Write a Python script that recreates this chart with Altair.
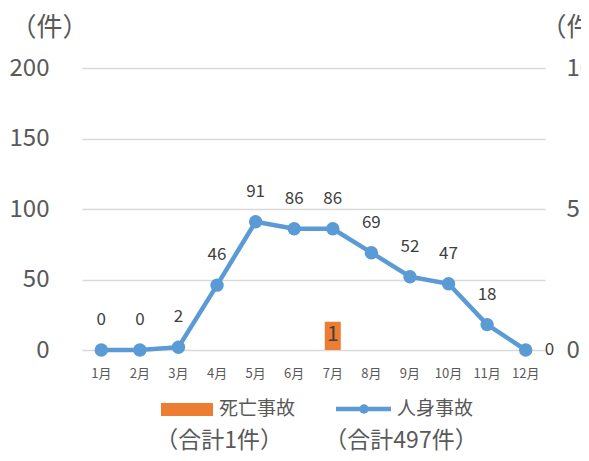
import altair as alt
import pandas as pd

# ---- data ----
months = ["1月", "2月", "3月", "4月", "5月", "6月", "7月", "8月", "9月", "10月", "11月", "12月"]
injury = [0, 0, 2, 46, 91, 86, 86, 69, 52, 47, 18, 0]      # 人身事故 (left axis)
fatal = [0, 0, 0, 0, 0, 0, 1, 0, 0, 0, 0, 0]               # 死亡事故 (right axis)
series_names = ["死亡事故", "人身事故"]
totals = ["（合計1件）", "（合計497件）"]
left_ticks = [0, 50, 100, 150, 200]
right_ticks = [0, 5, 10]
unit = "（件）"

df = pd.DataFrame({"month": months, "injury": injury, "fatal": fatal})
leg_df = pd.DataFrame({"name": series_names, "total": totals})

FONT = "Noto Sans CJK JP"
BLUE = "#5B9BD5"
ORANGE = "#ED7D31"
GRAY = "#595959"
DARK = "#404040"

x = alt.X(
    "month:N", sort=months,
    scale=alt.Scale(paddingInner=0, paddingOuter=0),
    axis=alt.Axis(title=None, labelAngle=0, labelFontSize=13, labelColor=GRAY,
                  labelPadding=17, domain=False, ticks=False, grid=False,
                  labelFont=FONT, labelOverlap=False),
)

yL = alt.Y(
    "injury:Q", scale=alt.Scale(domain=[0, 200], nice=False),
    axis=alt.Axis(values=left_ticks, title=unit, titleAngle=0, titleX=-33, titleY=-41,
                  titleAlign="center", titleBaseline="middle", titleFontSize=26,
                  titleFontWeight="normal", titleColor=GRAY, titleFont=FONT,
                  labelFontSize=24, labelColor=GRAY, labelPadding=33, labelFont=FONT,
                  domain=False, ticks=False, grid=True, gridColor="#D9D9D9", gridWidth=1.5),
)

yR = alt.Y(
    "fatal:Q", scale=alt.Scale(domain=[0, 10], nice=False),
    axis=alt.Axis(orient="right", values=right_ticks, title=unit, titleAngle=0, titleX=-5, titleY=-41,
                  titleAlign="left", titleBaseline="middle", titleFontSize=26,
                  titleFontWeight="normal", titleColor=GRAY, titleFont=FONT,
                  labelFontSize=24, labelColor=GRAY, labelPadding=21, labelFont=FONT,
                  domain=False, ticks=False, grid=False),
)

base = alt.Chart(df)

line = base.mark_line(color=BLUE, strokeWidth=4.5).encode(x=x, y=yL)
pts = base.mark_circle(color=BLUE, size=180, opacity=1).encode(x=x, y=yL)
lab_above = base.transform_filter("datum.month != '12月'").mark_text(
    dy=-30, fontSize=17, color=DARK, font=FONT, baseline="middle").encode(x=x, y=yL, text="injury:Q")
lab_right = base.transform_filter("datum.month == '12月'").mark_text(
    dx=19, align="left", fontSize=17, color=DARK, font=FONT, baseline="middle").encode(x=x, y=yL, text="injury:Q")
left_layer = alt.layer(line, pts, lab_above, lab_right)

bar = base.mark_bar(color=ORANGE, size=16).encode(x=x, y=yR)
bar_lab = base.transform_filter("datum.fatal > 0").mark_text(
    dy=13, fontSize=21, color=DARK, font=FONT, baseline="middle").encode(x=x, y=yR, text="fatal:Q")
right_layer = alt.layer(bar, bar_lab)

# ---- legend and totals below the plot ----
leg = alt.Chart(leg_df)
f0 = "datum.name == '死亡事故'"
f1 = "datum.name == '人身事故'"
leg_rect = leg.transform_filter(f0).mark_rect(color=ORANGE).encode(
    x=alt.value(79), x2=alt.value(131), y=alt.value(335), y2=alt.value(348))
leg_line = leg.transform_filter(f1).mark_rule(color=BLUE, strokeWidth=4.5).encode(
    x=alt.value(254), x2=alt.value(309), y=alt.value(341))
leg_dot = leg.transform_filter(f1).mark_circle(color=BLUE, size=90, opacity=1).encode(
    x=alt.value(282), y=alt.value(341))
leg_t0 = leg.transform_filter(f0).mark_text(align="left", baseline="middle", fontSize=19, color=GRAY, font=FONT).encode(
    x=alt.value(137), y=alt.value(341), text="name:N")
leg_t1 = leg.transform_filter(f1).mark_text(align="left", baseline="middle", fontSize=19, color=GRAY, font=FONT).encode(
    x=alt.value(315), y=alt.value(341), text="name:N")
tot0 = leg.transform_filter(f0).mark_text(align="center", baseline="middle", fontSize=23, color=GRAY, font=FONT).encode(
    x=alt.value(137), y=alt.value(373), text="total:N")
tot1 = leg.transform_filter(f1).mark_text(align="center", baseline="middle", fontSize=23, color=GRAY, font=FONT).encode(
    x=alt.value(319), y=alt.value(373), text="total:N")
legend_layer = alt.layer(leg_rect, leg_line, leg_dot, leg_t0, leg_t1, tot0, tot1)

chart = alt.layer(left_layer, right_layer, legend_layer).resolve_scale(y="independent").properties(
    width=463, height=282,
    autosize=alt.AutoSizeParams(type="none"),
    padding={"left": 74, "top": 60, "right": 36, "bottom": 103},
    background="white",
).configure_view(stroke=None)

chart.save("out.html", embed_options={"renderer": "svg", "actions": False})
